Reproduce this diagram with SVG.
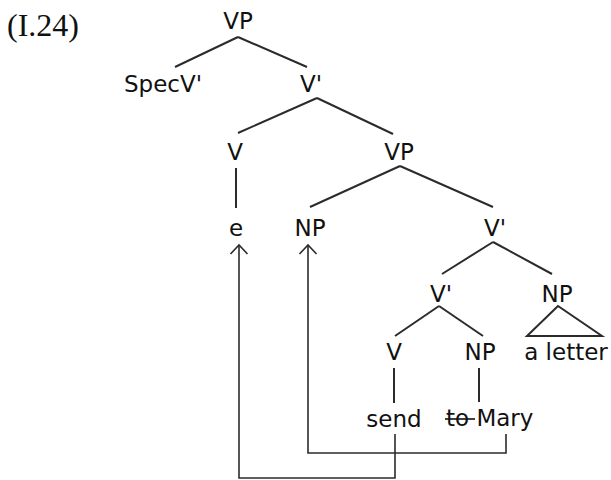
<svg xmlns="http://www.w3.org/2000/svg" width="611" height="480" viewBox="0 0 611 480">
<defs>
<style>
.lbl{font-family:"DejaVu Sans","Noto Sans",sans-serif;font-size:23px;fill:#111;text-anchor:middle}
.num{font-family:"Liberation Serif","Times New Roman",serif;font-size:32px;fill:#111}
.br{stroke:#2b2b2b;stroke-width:2;fill:none;stroke-linecap:butt}
.mv{stroke:#2b2b2b;stroke-width:1.6;fill:none}
</style>
<marker id="open" viewBox="0 0 20 20" refX="10" refY="10" markerWidth="20" markerHeight="20" markerUnits="userSpaceOnUse" orient="auto">
<path d="M1,1.5 L10,10 L1,18.5" fill="none" stroke="#2b2b2b" stroke-width="1.6"/>
</marker>
</defs>
<rect width="611" height="480" fill="#fff"/>
<text class="num" x="7" y="36">(I.24)</text>
<g id="edges">
<line class="br" x1="238" y1="37" x2="175" y2="67"/>
<line class="br" x1="238" y1="37" x2="307" y2="67"/>
<line class="br" x1="317" y1="98" x2="238" y2="133"/>
<line class="br" x1="317" y1="98" x2="393" y2="134"/>
<line class="br" x1="236" y1="168" x2="236" y2="208"/>
<line class="br" x1="400" y1="166" x2="310" y2="207"/>
<line class="br" x1="400" y1="166" x2="493" y2="207"/>
<line class="br" x1="493" y1="242" x2="442" y2="274"/>
<line class="br" x1="493" y1="242" x2="552" y2="274"/>
<line class="br" x1="439" y1="306" x2="395" y2="336"/>
<line class="br" x1="439" y1="306" x2="483" y2="336"/>
<polygon class="br" points="558,306 527,336 602,336"/>
<line class="br" x1="394" y1="368" x2="394" y2="403"/>
<line class="br" x1="479" y1="368" x2="479" y2="402"/>
</g>
<g id="movement">
<polyline class="mv" points="395,434 395,478 239,478 239,245" marker-end="url(#open)"/>
<polyline class="mv" points="506,434 506,453 308,453 308,245" marker-end="url(#open)"/>
</g>
<g id="n-vp1"><text class="lbl" x="238" y="29">VP</text></g>
<g id="n-specv"><text class="lbl" x="163" y="92">SpecV'</text></g>
<g id="n-vbar1"><text class="lbl" x="311" y="92">V'</text></g>
<g id="n-v1"><text class="lbl" x="235" y="160">V</text></g>
<g id="n-vp2"><text class="lbl" x="399" y="160">VP</text></g>
<g id="n-e"><text class="lbl" x="236" y="236">e</text></g>
<g id="n-np1"><text class="lbl" x="310" y="236">NP</text></g>
<g id="n-vbar2"><text class="lbl" x="495" y="236">V'</text></g>
<g id="n-vbar3"><text class="lbl" x="441" y="302">V'</text></g>
<g id="n-np2"><text class="lbl" x="557" y="302">NP</text></g>
<g id="n-v2"><text class="lbl" x="394" y="360">V</text></g>
<g id="n-np3"><text class="lbl" x="480" y="360">NP</text></g>
<g id="n-aletter"><text class="lbl" x="566" y="360">a letter</text></g>
<g id="n-send"><text class="lbl" x="394" y="427">send</text></g>
<g id="n-tomary"><text class="lbl" x="446" y="426" style="text-anchor:start">to Mary</text>
<line x1="445" y1="419" x2="475" y2="419" stroke="#111" stroke-width="1.6"/></g>
</svg>
